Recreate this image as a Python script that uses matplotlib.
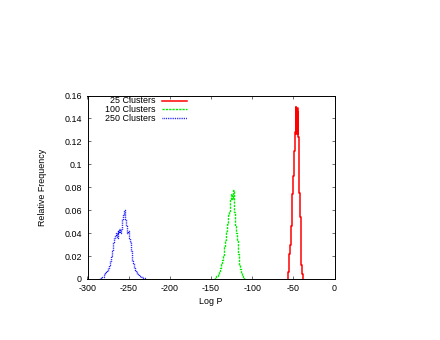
import numpy as np
import matplotlib
matplotlib.use("Agg")
import matplotlib.pyplot as plt

plt.rcParams['font.family'] = ['Liberation Sans', 'DejaVu Sans']
plt.rcParams['axes.unicode_minus'] = False

# ---- data (histograms: bin centres and relative frequencies) ----
red_x = [-56.5, -56.0, -55.5, -55.0, -54.5, -54.0, -53.5, -53.0, -52.5, -52.0, -51.5,
         -51.0, -50.5, -50.0, -49.5, -49.0, -48.5, -48.0, -47.5, -47.0, -46.5,
         -46.0, -45.5, -45.0, -44.5, -44.0, -43.5, -43.0, -42.5, -42.0, -41.5,
         -41.0, -40.5, -40.0, -39.5, -39.0, -38.5, -38.0]
red_y = [0.000, 0.006, 0.010, 0.016, 0.022, 0.026, 0.030, 0.036, 0.042, 0.046, 0.060,
         0.074, 0.080, 0.090, 0.100, 0.104, 0.112, 0.120, 0.128, 0.150, 0.126,
         0.148, 0.128, 0.149, 0.126, 0.146, 0.124, 0.085, 0.075, 0.062, 0.054,
         0.036, 0.028, 0.012, 0.008, 0.004, 0.002, 0.000]

green_x = [-146, -145, -144, -143, -142, -141, -140, -139, -138, -137, -136,
           -135, -134, -133, -132, -131, -130, -129, -128, -127, -126,
           -125, -124, -123, -122, -121, -120, -119, -118, -117, -116,
           -115, -114, -113, -112, -111, -110, -109]
green_y = [0.000, 0.001, 0.002, 0.003, 0.003, 0.004, 0.006, 0.008, 0.010, 0.013, 0.017,
           0.020, 0.028, 0.032, 0.034, 0.042, 0.048, 0.056, 0.058, 0.066, 0.070,
           0.074, 0.070, 0.078, 0.072, 0.058, 0.046, 0.040, 0.034, 0.022, 0.018,
           0.012, 0.009, 0.005, 0.003, 0.002, 0.001, 0.000]

blue_x = [-285, -284, -283, -282, -281, -280, -279, -278, -277, -276, -275,
          -274, -273, -272, -271, -270, -269, -268, -267, -266, -265,
          -264, -263, -262, -261, -260, -259, -258, -257, -256, -255,
          -254, -253, -252, -251, -250, -249, -248, -247, -246, -245,
          -244, -243, -242, -241, -240, -239, -238, -237, -236, -235,
          -234, -233, -232, -231, -230, -229]
blue_y = [0.000, 0.001, 0.001, 0.002, 0.002, 0.003, 0.004, 0.005, 0.006, 0.007, 0.008,
          0.010, 0.012, 0.016, 0.020, 0.024, 0.028, 0.032, 0.036, 0.038, 0.040,
          0.036, 0.042, 0.040, 0.044, 0.040, 0.044, 0.048, 0.052, 0.056, 0.060,
          0.052, 0.046, 0.044, 0.040, 0.042, 0.036, 0.032, 0.024, 0.018, 0.016,
          0.014, 0.010, 0.008, 0.007, 0.006, 0.004, 0.004, 0.003, 0.003, 0.002,
          0.002, 0.002, 0.001, 0.001, 0.001, 0.000]

labels = ["25 Clusters", "100 Clusters", "250 Clusters"]
x_ticks = [-300, -250, -200, -150, -100, -50, 0]
y_ticks = [0, 0.02, 0.04, 0.06, 0.08, 0.1, 0.12, 0.14, 0.16]
y_ticklabels = ["0", "0.02", "0.04", "0.06", "0.08", "0.1", "0.12", "0.14", "0.16"]

# ---- figure ----
fig = plt.figure(figsize=(4.4, 3.4), dpi=100)
ax = fig.add_axes([87.5 / 440, 61 / 340, 247 / 440, 183.5 / 340])

styles = [
    dict(color='#ff0000', lw=1.1, linestyle='-'),
    dict(color='#00ee00', lw=1.0, linestyle=(0, (1.6, 0.8))),
    dict(color='#0000ff', lw=1.0, linestyle=(0, (0.6, 0.7))),
]
series = [(red_x, red_y), (green_x, green_y), (blue_x, blue_y)]
for (xs, ys), st in zip(series, styles):
    ax.step(xs, ys, where='mid', **st)

ax.set_xlim(-300, 0)
ax.set_ylim(0, 0.16)
ax.set_xticks(x_ticks)
ax.set_xticklabels([str(t) for t in x_ticks])
ax.set_yticks(y_ticks)
ax.set_yticklabels(y_ticklabels)

ax.tick_params(direction='in', length=2.4, width=0.6, color='#555555',
               top=True, right=True, labelsize=6.4, pad=4)
ax.tick_params(axis='x', pad=3.5)
for sp in ax.spines.values():
    sp.set_linewidth(0.7)
    sp.set_color('black')

ax.set_xlabel("Log P", fontsize=6.4, labelpad=3)
ax.set_ylabel("Relative Frequency", fontsize=6.4)
ax.yaxis.set_label_coords(-0.163, 0.5)

# gnuplot-style key: right-aligned text followed by sample line
rows = [0.972, 0.924, 0.876]
for lab, st, yy in zip(labels, styles, rows):
    ax.text(0.277, yy, lab, transform=ax.transAxes, ha='right', va='center',
            fontsize=6.4)
    ax.plot([0.300, 0.403], [yy, yy], transform=ax.transAxes, **st)

fig.savefig("out.png", dpi=100)
